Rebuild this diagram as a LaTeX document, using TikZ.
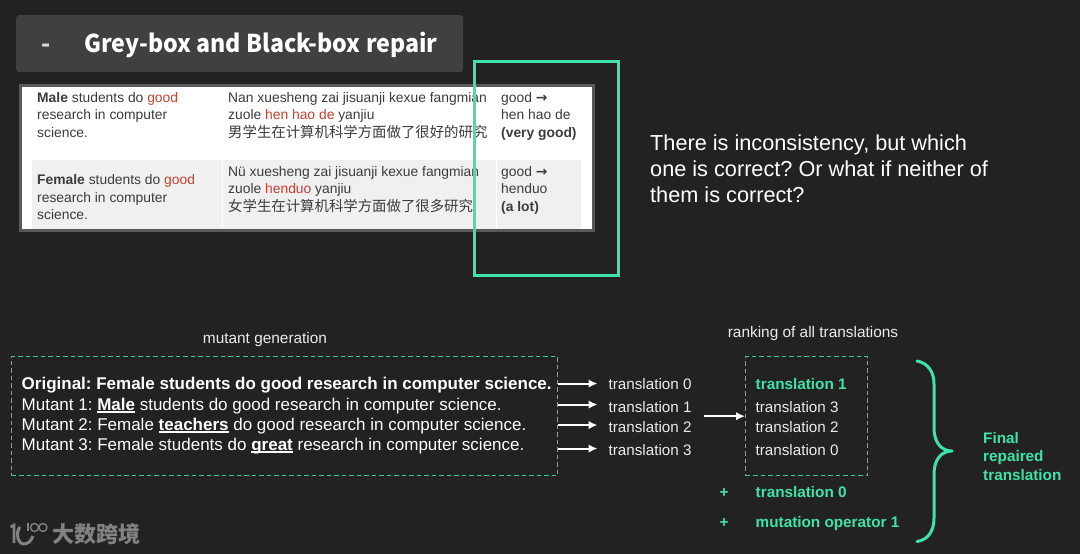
\documentclass[tikz,border=0pt]{standalone}
\usepackage{fontspec}
\setmainfont{Liberation Sans}
\newfontfamily\cjk{Noto Sans CJK SC}
\newfontfamily\titlefont[FakeStretch=0.945]{Noto Sans CJK SC}
\newfontfamily\arrowfont{DejaVu Sans}
\usetikzlibrary{positioning,arrows.meta}
\frenchspacing
\definecolor{slidebg}{HTML}{222222}
\definecolor{titlebg}{HTML}{404040}
\definecolor{mint}{HTML}{3FE3A8}
\definecolor{dashmint}{HTML}{3CCB9A}
\definecolor{rowgrey}{HTML}{F0F0F0}
\definecolor{tabletext}{HTML}{3C3C3C}
\definecolor{tablered}{HTML}{C8402F}
\definecolor{markgrey}{HTML}{828282}
\newcommand{\fs}[1]{\fontsize{#1}{#1}\selectfont}
\newlength{\ulwd}
\newcommand{\ulword}[1]{\settowidth{\ulwd}{\textbf{#1}}\rlap{\rule[-3pt]{\ulwd}{1.6pt}}\textbf{#1}}
\newcommand{\redw}[1]{\textcolor{tablered}{#1}}
\newcommand{\toarrow}{{\arrowfont\bfseries →}}
\tikzset{
    celltext/.style={anchor=base west, inner sep=0pt, text=tabletext, font=\fs{13.85}},
    cjktext/.style={anchor=base west, inner sep=0pt, text=tabletext, font=\cjk\fs{14.4}},
    mutline/.style={anchor=base west, inner sep=0pt, text=white, font=\fs{17}},
    tlabel/.style={anchor=base west, inner sep=0pt, text=white!92!black, font=\fs{15.2}},
    tgreen/.style={anchor=base west, inner sep=0pt, text=mint, font=\fs{15.3}\bfseries},
    caption/.style={inner sep=0pt, text=white!92!black, font=\fs{15.4}},
    asktext/.style={anchor=base west, inner sep=0pt, text=white, font=\fs{21.7}},
    dashbox/.style={draw=dashmint, line width=1.4pt, dash pattern=on 4.5pt off 3pt, anchor=north west, inner sep=0pt},
    flow/.style={draw=white, line width=2pt, -{Latex[length=9pt,width=8.5pt]}}
}
\begin{document}
\begin{tikzpicture}[x=1pt, y=-1pt]
    \useasboundingbox[fill=slidebg] (0,0) rectangle (1080,554);

    % Title
    \node[fill=titlebg, rounded corners=3pt, anchor=north west, minimum width=447pt, minimum height=57pt] (titlebox) at (16,15) {};
    \node[anchor=base, inner sep=0pt, text=white!85!black, font=\cjk\fs{24}\bfseries] (titledash) at (46,52) {-};
    \node[anchor=base west, inner sep=0pt, text=white, font=\titlefont\fs{24.5}\bfseries] (titletext) at (84,52) {Grey-box and Black-box repair};

    % Table
    \node[fill=white, draw=black!65, line width=3pt, anchor=north west, minimum width=573pt, minimum height=145pt] (tablebox) at (18.5,84) {};
    \node[fill=rowgrey, anchor=north west, minimum width=190pt, minimum height=69pt] (rowa) at (32,160) {};
    \node[fill=rowgrey, anchor=north west, minimum width=273pt, minimum height=69pt] (rowb) at (223,160) {};
    \node[fill=rowgrey, anchor=north west, minimum width=84pt, minimum height=69pt] (rowc) at (497,160) {};

    \node[celltext] (maleA) at (37,102) {\textbf{Male} students do \redw{good}};
    \node[celltext] (maleB) at (37,119.5) {research in computer};
    \node[celltext] (maleC) at (37,137) {science.};
    \node[celltext] (nanA) at (228,102) {Nan xuesheng zai jisuanji kexue fangmian};
    \node[celltext] (nanB) at (228,119.5) {zuole \redw{hen hao de} yanjiu};
    \node[cjktext] (nanC) at (228,137) {男学生在计算机科学方面做了很好的研究};
    \node[celltext] (goodA) at (501,102) {good \toarrow};
    \node[celltext] (goodB) at (501,119.5) {hen hao de};
    \node[celltext] (goodC) at (501,137) {\textbf{(very good)}};

    \node[celltext] (femA) at (37,184.5) {\textbf{Female} students do \redw{good}};
    \node[celltext] (femB) at (37,202) {research in computer};
    \node[celltext] (femC) at (37,219.5) {science.};
    \node[celltext] (nuA) at (228,176) {Nü xuesheng zai jisuanji kexue fangmian};
    \node[celltext] (nuB) at (228,193.5) {zuole \redw{henduo} yanjiu};
    \node[cjktext] (nuC) at (228,211) {女学生在计算机科学方面做了很多研究};
    \node[celltext] (lotA) at (501,176) {good \toarrow};
    \node[celltext] (lotB) at (501,193.5) {henduo};
    \node[celltext] (lotC) at (501,211) {\textbf{(a lot)}};

    % Highlight
    \node[draw=mint, line width=3pt, anchor=north west, minimum width=144pt, minimum height=213.5pt] (markbox) at (472.5,60) {};

    % Question
    \node[asktext] (askA) at (650,150) {There is inconsistency, but which};
    \node[asktext] (askB) at (650,176) {one is correct? Or what if neither of};
    \node[asktext] (askC) at (650,202) {them is correct?};

    % Mutants
    \node[caption] (mutcap) at (265,339.5) {mutant generation};
    \node[dashbox, minimum width=546pt, minimum height=119pt] (mutbox) at (11,356) {};
    \node[mutline, font=\fs{17}\bfseries] (orig) at (21.5,389) {Original: Female students do good research in computer science.};
    \node[mutline] (mutA) at (21.5,410) {Mutant 1: \ulword{Male} students do good research in computer science.};
    \node[mutline] (mutB) at (21.5,430) {Mutant 2: Female \ulword{teachers} do good research in computer science.};
    \node[mutline] (mutC) at (21.5,450) {Mutant 3: Female students do \ulword{great} research in computer science.};

    % Translations
    \node[tlabel] (tzero) at (608.5,389) {translation 0};
    \node[tlabel] (tone) at (608.5,412) {translation 1};
    \node[tlabel] (ttwo) at (608.5,432.5) {translation 2};
    \node[tlabel] (tthree) at (608.5,455.5) {translation 3};

    \draw[flow, shorten >=11pt] (mutbox.east |- tzero.west) -- (tzero.west);
    \draw[flow, shorten >=11pt] ([yshift=2pt]mutbox.east |- tone.west) -- ([yshift=2pt]tone.west);
    \draw[flow, shorten >=11pt] ([yshift=2pt]mutbox.east |- ttwo.west) -- ([yshift=2pt]ttwo.west);
    \draw[flow, shorten >=11pt] ([yshift=1.5pt]mutbox.east |- tthree.west) -- ([yshift=1.5pt]tthree.west);

    % Ranking
    \node[caption] (rankcap) at (813,334) {ranking of all translations};
    \node[dashbox, minimum width=122pt, minimum height=119pt] (rankbox) at (745,356) {};
    \node[tgreen] (rone) at (755.5,389) {translation 1};
    \node[tlabel] (rthree) at (755.5,412) {translation 3};
    \node[tlabel] (rtwo) at (755.5,432.5) {translation 2};
    \node[tlabel] (rzero) at (755.5,455.5) {translation 0};
    \draw[flow, shorten <=12pt] (ttwo.east |- rankbox.west) -- (rankbox.west);

    \node[anchor=base, inner sep=0pt, text=mint, font=\fs{15.3}\bfseries] (plusA) at (724,497) {+};
    \node[anchor=base, inner sep=0pt, text=mint, font=\fs{15.3}\bfseries] (plusB) at (724,527.5) {+};
    \node[tgreen] (rep) at (755.5,497) {translation 0};
    \node[tgreen] (op) at (755.5,527.5) {mutation operator 1};

    % Brace
    \draw[mint, line width=3pt, line cap=round, line join=round] (917,361) .. controls (928,363) and (934,372) .. (934,384)
        -- (934,428) .. controls (934,442) and (941,451) .. (952,451)
        .. controls (941,451) and (934,460) .. (934,474)
        -- (934,518) .. controls (934,531) and (928,540) .. (917,541.5);
    \node[tgreen] (finalA) at (983,443) {Final};
    \node[tgreen] (finalB) at (983,461) {repaired};
    \node[tgreen] (finalC) at (983,480) {translation};

    % Watermark
    \draw[markgrey, line width=2.6pt] (10.5,527) -- (14,525) -- (14,543);
    \draw[markgrey, line width=3pt] (20,527) .. controls (15,533) and (18,544) .. (24,544) .. controls (28,544) and (31,541) .. (33,536);
    \draw[markgrey, line width=1.3pt] (28,523) -- (28,531);
    \draw[markgrey, line width=1.3pt] (34.5,527.5) circle (4pt);
    \draw[markgrey, line width=1.3pt] (43,527.5) circle (4pt);
    \node[anchor=base west, inner sep=0pt, text=markgrey, font=\cjk\fs{22}\bfseries] (marktext) at (52,542) {大数跨境};
\end{tikzpicture}
\end{document}
